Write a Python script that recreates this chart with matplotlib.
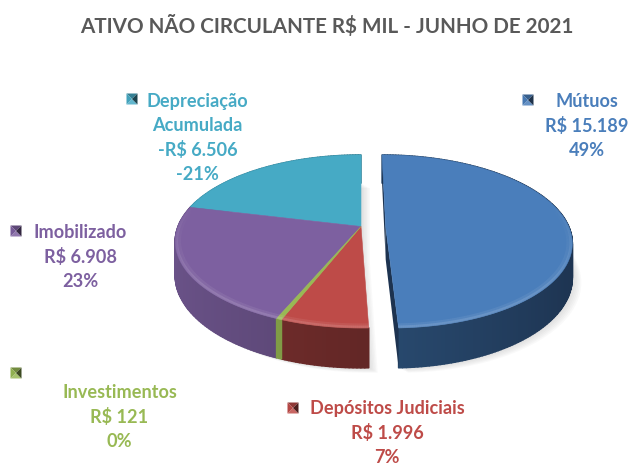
import numpy as np
import matplotlib
matplotlib.use("Agg")
import matplotlib.pyplot as plt
from matplotlib.colors import to_rgb
from matplotlib.collections import PolyCollection, LineCollection

title = "ATIVO NÃO CIRCULANTE R$ MIL - JUNHO DE 2021"
names = ["Mútuos", "Depósitos Judiciais", "Investimentos", "Imobilizado", "Depreciação\nAcumulada"]
values = [15189, 1996, 121, 6908, 6506]
value_labels = ["R$ 15.189", "R$ 1.996", "R$ 121", "R$ 6.908", "-R$ 6.506"]
pct_labels = ["49%", "7%", "0%", "23%", "-21%"]
top_colors = ["#4a7ebb", "#be4b48", "#98b954", "#7d60a0", "#46aac5"]
side_light = ["#28496e", "#7f3130", "#8aa84c", "#6a5288", "#3b91a8"]
side_dark = ["#1d3350", "#632726", "#7a9442", "#574370", "#2f7a8e"]
explode = [0.135, 0, 0, 0, 0]
label_pos = [(587, 101), (387, 408), (119.5, 392), (80, 232), (197.5, 101)]
line_gap = 24.5
marker_pos = [(528, 100), (293, 408), (16, 373), (16, 231), (132, 99)]

CX, Y0, A, B, K, D = 361, 226.5, 183, 83.9, 0.173, 33

plt.rcParams["font.family"] = ["Lato", "DejaVu Sans"]
fig = plt.figure(figsize=(6.35, 4.65), dpi=100)
ax = fig.add_axes([0, 0, 1, 1])
ax.set_xlim(0, 635)
ax.set_ylim(465, 0)
ax.axis("off")


def project(theta, r=1.0, off=0.0, depth=0.0):
    """theta: clockwise from the top, radians."""
    u = r * np.sin(theta) + off
    v = r * np.cos(theta)
    w = 1 + K * v
    return CX + A * u / w, Y0 - B * v / w + depth * D / w


def mix(c1, c2, t):
    a, b = np.array(to_rgb(c1)), np.array(to_rgb(c2))
    return tuple(a + (b - a) * t)


fractions = np.abs(values) / np.sum(np.abs(values))
edges = np.concatenate([[0], np.cumsum(fractions)]) * 2 * np.pi

# soft shadow: each slice's base, shifted a little further each pass
for i in range(5):
    tt = np.linspace(edges[i], edges[i + 1], 80)
    x, y = project(tt, 1.0, explode[i], 1.0)
    px, py = project(0.0, 0.0, explode[i], 1.0)
    for s in np.linspace(1.5, 9, 6):
        ax.fill(np.r_[px, x] + s, np.r_[py, y] + s * 0.55, color="#666666", alpha=0.035, lw=0, zorder=1)

# walls, back to front
for i in [4, 3, 1, 2, 0]:
    t0, t1 = edges[i], edges[i + 1]
    n = max(3, int(np.degrees(t1 - t0)) + 1)
    tt = np.linspace(t0, t1, n)
    x0, y0 = project(tt, 1.0, explode[i])
    x1, y1 = project(tt, 1.0, explode[i], 1.0)
    polys, cols = [], []
    for j in range(n - 1):
        polys.append([(x0[j], y0[j]), (x0[j + 1], y0[j + 1]), (x1[j + 1], y1[j + 1]), (x1[j], y1[j])])
        s = np.sin(tt[j])
        shade = np.clip(1 - s if i == 0 else -s, 0, 1)
        cols.append(mix(side_dark[i], side_light[i], shade))
    ax.add_collection(PolyCollection(polys, facecolors=cols, edgecolors=cols, linewidths=1.1, zorder=2 + (i == 0)))

# cut faces of the exploded slice
for th in [edges[0], edges[1]]:
    ax_, ay_ = project(0.0, 0.0, explode[0])
    bx_, by_ = project(th, 1.0, explode[0])
    cx_, cy_ = project(th, 1.0, explode[0], 1.0)
    dx_, dy_ = project(0.0, 0.0, explode[0], 1.0)
    ax.fill([ax_, bx_, cx_, dx_], [ay_, by_, cy_, dy_], color=side_dark[0], lw=0, zorder=3)

# top faces
for i in [4, 3, 1, 2, 0]:
    tt = np.linspace(edges[i], edges[i + 1], max(4, int(np.degrees(edges[i + 1] - edges[i])) * 2))
    x, y = project(tt, 1.0, explode[i])
    ax_, ay_ = project(0.0, 0.0, explode[i])
    ax.fill(np.r_[ax_, x], np.r_[ay_, y], color=top_colors[i], lw=0.4, zorder=4 + (i == 2))
    # bevel along the front rim, fading towards the back
    for r, gain, lw in [(0.992, 0.4, 2.0), (0.98, 0.2, 3.0)]:
        xr, yr = project(tt, r, explode[i])
        segs = [[(xr[j], yr[j]), (xr[j + 1], yr[j + 1])] for j in range(len(tt) - 1)]
        fade = np.clip((0.3 - np.cos(tt[:-1])) / 0.9, 0, 1) * gain
        rgb = mix(top_colors[i], "#ffffff", 0.35)
        ax.add_collection(LineCollection(segs, colors=[(*rgb, f) for f in fade], linewidths=lw,
                                         capstyle="butt", zorder=6))

# labels
for i in range(len(names)):
    lx, ly = label_pos[i]
    lines = names[i].split("\n") + [value_labels[i], pct_labels[i]]
    for k, s in enumerate(lines):
        ax.text(lx, ly + k * line_gap, s, color=top_colors[i], fontsize=13.1,
                fontweight="bold", ha="center", va="center", zorder=8)
    # pyramid legend key
    mx, my = marker_pos[i]
    h = 5.5
    c = top_colors[i]
    faces = [([mx - h, mx + h, mx], [my - h, my - h, my], mix(c, "#000000", 0.25)),
             ([mx - h, mx + h, mx], [my + h, my + h, my], mix(c, "#ffffff", 0.15)),
             ([mx - h, mx - h, mx], [my - h, my + h, my], mix(c, "#000000", 0.05)),
             ([mx + h, mx + h, mx], [my - h, my + h, my], mix(c, "#000000", 0.6))]
    for fx, fy, col in faces:
        ax.fill(fx, fy, color=col, lw=0, zorder=8)

ax.text(327, 26, title, color="#595959", fontsize=14.85, fontweight="bold", ha="center", va="center")
fig.savefig("out.png", dpi=100)
